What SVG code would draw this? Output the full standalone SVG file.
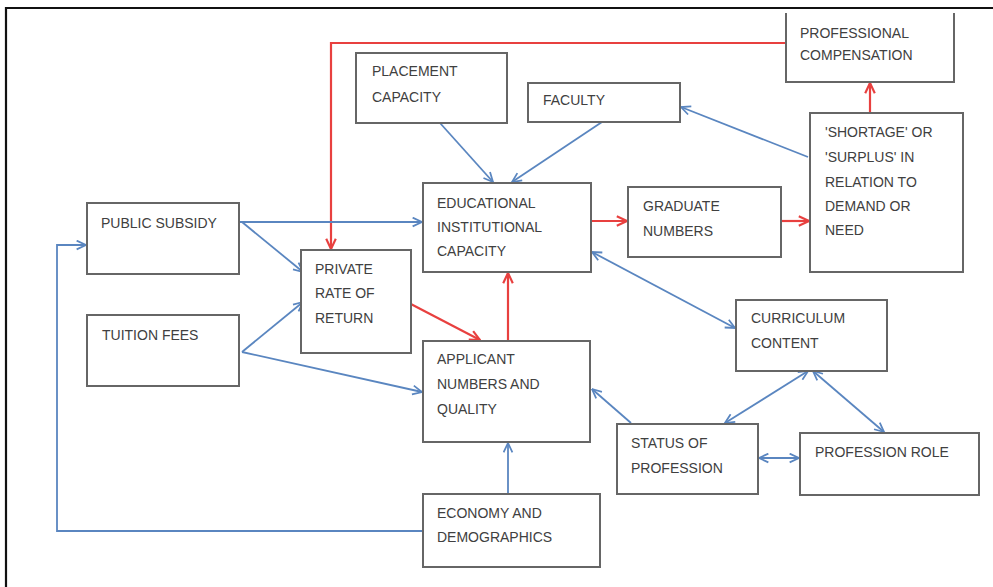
<svg xmlns="http://www.w3.org/2000/svg" width="993" height="587" viewBox="0 0 993 587">
<defs>
<style>
.box{fill:#fff;stroke:#666;stroke-width:2}
.t{font-family:"Liberation Sans",Arial,sans-serif;font-size:14px;fill:#404040}
.b{fill:none;stroke:#5a86c0;stroke-width:1.8}
.r{fill:none;stroke:#e8403f;stroke-width:2.2}
</style>
<marker id="ab" viewBox="0 0 10 10" refX="9.5" refY="5" markerWidth="11" markerHeight="11" markerUnits="userSpaceOnUse" orient="auto-start-reverse">
<path d="M1,1 L9.5,5 L1,9" fill="none" stroke="#5a86c0" stroke-width="1.6"/>
</marker>
<marker id="ar" viewBox="0 0 10 10" refX="9.5" refY="5" markerWidth="12" markerHeight="12" markerUnits="userSpaceOnUse" orient="auto-start-reverse">
<path d="M1,1 L9.5,5 L1,9" fill="none" stroke="#e8403f" stroke-width="1.8"/>
</marker>
</defs>
<rect width="993" height="587" fill="#fff"/>
<path d="M5,8 H993 M6,7 V587" fill="none" stroke="#111" stroke-width="2.2"/>

<g id="connectors">
<path class="r" d="M786,43 H331 V249" marker-end="url(#ar)"/>
<path class="r" d="M407,302 L480,340" marker-end="url(#ar)"/>
<path class="r" d="M508,341 V273" marker-end="url(#ar)"/>
<path class="r" d="M591,221 H627" marker-end="url(#ar)"/>
<path class="r" d="M781,221 H809" marker-end="url(#ar)"/>
<path class="r" d="M870,113 V83" marker-end="url(#ar)"/>
<path class="b" d="M440,123 L493,182" marker-end="url(#ab)"/>
<path class="b" d="M602,122 L512,182" marker-end="url(#ab)"/>
<path class="b" d="M808,157 L681,107" marker-end="url(#ab)"/>
<path class="b" d="M239,222 H422" marker-end="url(#ab)"/>
<path class="b" d="M242,222 L303,272" marker-end="url(#ab)"/>
<path class="b" d="M242,352 L303,302" marker-end="url(#ab)"/>
<path class="b" d="M242,352 L422,392" marker-end="url(#ab)"/>
<path class="b" d="M423,531 H57 V245 H86" marker-end="url(#ab)"/>
<path class="b" d="M508,494 V443" marker-end="url(#ab)"/>
<path class="b" d="M631,423 L592,389" marker-end="url(#ab)"/>
<path class="b" d="M592,252 L735,328" marker-start="url(#ab)" marker-end="url(#ab)"/>
<path class="b" d="M808,371 L725,423" marker-start="url(#ab)" marker-end="url(#ab)"/>
<path class="b" d="M813,371 L884,432" marker-start="url(#ab)" marker-end="url(#ab)"/>
<path class="b" d="M759,458 H799" marker-start="url(#ab)" marker-end="url(#ab)"/>
</g>

<g id="professional-compensation">
<path d="M786,13 V82 H954 V13" fill="#fff" stroke="#666" stroke-width="2"/>
<text class="t" x="800" y="38">PROFESSIONAL</text>
<text class="t" x="800" y="60">COMPENSATION</text>
</g>
<g id="placement-capacity">
<rect class="box" x="356" y="53" width="151" height="70"/>
<text class="t" x="372" y="76">PLACEMENT</text>
<text class="t" x="372" y="102">CAPACITY</text>
</g>
<g id="faculty">
<rect class="box" x="528" y="83" width="152" height="39"/>
<text class="t" x="543" y="105">FACULTY</text>
</g>
<g id="shortage-surplus">
<rect class="box" x="810" y="113" width="153" height="159"/>
<text class="t" x="825" y="137">'SHORTAGE' OR</text>
<text class="t" x="825" y="162">'SURPLUS' IN</text>
<text class="t" x="825" y="187">RELATION TO</text>
<text class="t" x="825" y="211">DEMAND OR</text>
<text class="t" x="825" y="235">NEED</text>
</g>
<g id="public-subsidy">
<rect class="box" x="87" y="203" width="152" height="71"/>
<text class="t" x="101" y="228">PUBLIC SUBSIDY</text>
</g>
<g id="tuition-fees">
<rect class="box" x="87" y="315" width="152" height="71"/>
<text class="t" x="102" y="340">TUITION FEES</text>
</g>
<g id="private-rate-of-return">
<rect class="box" x="301" y="250" width="110" height="103"/>
<text class="t" x="315" y="274">PRIVATE</text>
<text class="t" x="315" y="298">RATE OF</text>
<text class="t" x="315" y="323">RETURN</text>
</g>
<g id="educational-institutional-capacity">
<rect class="box" x="423" y="183" width="168" height="89"/>
<text class="t" x="437" y="208">EDUCATIONAL</text>
<text class="t" x="437" y="232">INSTITUTIONAL</text>
<text class="t" x="437" y="256">CAPACITY</text>
</g>
<g id="graduate-numbers">
<rect class="box" x="628" y="187" width="153" height="70"/>
<text class="t" x="643" y="211">GRADUATE</text>
<text class="t" x="643" y="236">NUMBERS</text>
</g>
<g id="curriculum-content">
<rect class="box" x="736" y="300" width="151" height="71"/>
<text class="t" x="751" y="323">CURRICULUM</text>
<text class="t" x="751" y="348">CONTENT</text>
</g>
<g id="applicant-numbers-quality">
<rect class="box" x="423" y="341" width="167" height="101"/>
<text class="t" x="437" y="364">APPLICANT</text>
<text class="t" x="437" y="389">NUMBERS AND</text>
<text class="t" x="437" y="414">QUALITY</text>
</g>
<g id="status-of-profession">
<rect class="box" x="617" y="424" width="141" height="70"/>
<text class="t" x="631" y="448">STATUS OF</text>
<text class="t" x="631" y="473">PROFESSION</text>
</g>
<g id="profession-role">
<rect class="box" x="800" y="433" width="179" height="62"/>
<text class="t" x="815" y="457">PROFESSION ROLE</text>
</g>
<g id="economy-demographics">
<rect class="box" x="423" y="494" width="177" height="73"/>
<text class="t" x="437" y="518">ECONOMY AND</text>
<text class="t" x="437" y="542">DEMOGRAPHICS</text>
</g>
</svg>
